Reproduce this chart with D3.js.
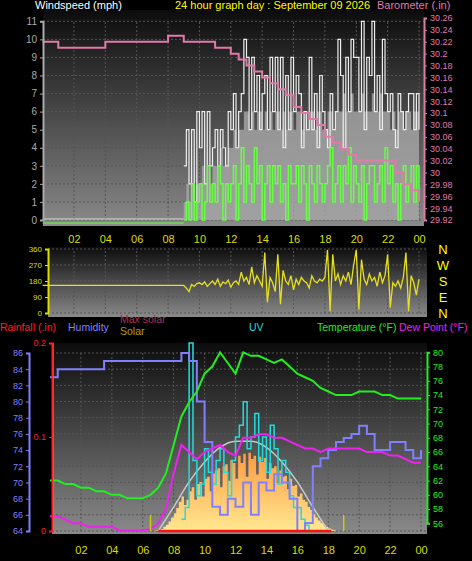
<!DOCTYPE html>
<html><head><meta charset="utf-8">
<script src="https://cdn.jsdelivr.net/npm/d3@7"></script>
<style>body{margin:0;background:#000}svg{display:block}text{font-family:"Liberation Sans",Arial,sans-serif}</style>
</head><body><svg id="c" width="472" height="561"></svg>
<script>
const hourTicks=[2,4,6,8,10,12,14,16,18,20,22,24];
const hourLabels=["02","04","06","08","10","12","14","16","18","20","22","00"];
// wind, 10-min steps from 09:00 to 24:00
const gust=[3,5,2,5,1,6, 4,6,2,6,3,4, 5,3,5,4,3,6, 5,7,4,6,7,10, 9,5,9,6,8,5, 7,8,5,9,6,9, 5,9,4,8,5,9, 6,8,7,4,6,5, 9,5,7,4,8,6, 5,4,7,5,6,10, 8,4,9,6,10,9, 9,6,11,5,9,8, 11,6,8,5,10,7, 6,7,5,4,7,6, 5,6,7,7,5,7, 5];
const speed=[0,1,0,2,0,1, 2,0,1,3,1,2, 1,3,2,0,2,1, 2,3,0,2,4,1, 3,2,1,4,2,3, 0,2,3,1,3,2, 3,1,2,0,3,2, 2,3,1,3,2,0, 3,2,1,3,2,1, 2,3,4,1,2,3, 1,3,2,4,1,3, 2,1,3,0,2,3, 3,1,2,3,1,4, 2,3,1,2,0,2, 3,1,2,3,1,3, 1];
const avgWind=[1,2,1,2,1,2, 2,3,2,3,2,3, 3,3,4,3,3,4, 4,5,4,5,5,6, 6,5,6,5,6,6, 5,6,5,6,5,6, 6,5,6,5,6,6, 5,6,6,5,6,5, 6,6,5,6,6,5, 5,6,6,5,6,6, 6,7,6,6,7,6, 6,6,7,6,6,6, 7,6,6,7,6,6, 6,5,6,5,6,6, 5,6,6,5,6,6, 6];
// barometer, 30-min steps 00:00-24:00
const pressure=[30.22,30.22,30.21,30.21,30.21,30.21,30.21,30.21,30.22,30.22,30.22,30.22,30.22,30.22,30.22,30.22,30.23,30.23,30.22,30.22,30.22,30.22,30.21,30.21,30.20,30.19,30.18,30.17,30.16,30.15,30.14,30.13,30.11,30.10,30.09,30.08,30.06,30.05,30.04,30.03,30.02,30.02,30.02,30.02,30.02,30.00,29.98,29.97,29.95];
// wind direction, 10-min steps from 09:00 (flat 155 before)
const direction=[155,140,120,160,150,165, 170,160,175,150,165,180, 160,190,150,175,165,185, 145,170,180,160,230,180, 200,160,260,170,210,180, 150,340,60,200,170,120, 330,50,240,180,160,210, 130,190,160,200,180,170, 140,210,180,170,190,180, 200,355,10,330,180,220, 160,210,180,230,160,270, 355,20,300,190,160,220, 180,200,150,230,170,210, 330,30,170,150,180,140, 200,340,10,210,170,100, 190];
// 30-min steps 00:00-24:00
const temperature=[62,62,61.5,61.5,61,61,60.5,60.5,60,60,59.5,59.5,59.5,60,61,63,67,71,73,74.5,77,78,80,78.5,77,80,79.5,79.5,79,78.5,79,78,77,76.5,76,75,74.5,74,74,74,74.5,74.5,74.5,74,74,73.5,73.5,73.5,73.5];
const dewPoint=[57,57,56.5,56,56,55.5,55.5,55.5,55.5,55,55,55,55,55.2,56,58,63,67,66,65,66,66.5,67,66,65.5,68,68,68.5,68.5,68,68,67.5,67,66.5,66.5,66,66.5,66.5,66.5,66.5,66.5,66,66,66,65.5,65.5,65,64.5,64.5];
const humidity=[83,84,84,84,84,84,84,85,85,85,85,85,85,85,85,85,85,86,85,80,75,67,66,68,67,70,66,70,69,71,70,68,64,65,72,73,74,75,75.5,76,77,76,74,74,75,75,74,73,74];
// solar, 10-min steps from 06:30
const solar=[0,0,5,10,20,40,60,90,130,170,220,280,330,250,300,380,420,300,450,470,330,500,520,380,550,580,600,420,620,640,480,680,650,500,720,650,740,520,750,690,720,540,710,660,700,500,650,600,620,460,580,520,530,400,500,430,440,330,360,300,280,230,200,160,130,100,80,60,40,25,15,5,0];
// max solar, hourly 07..18
const maxSolar=[0,230,470,660,800,860,860,800,660,470,230,0];
// UV, 15-min steps from 08:30
const uv=[1,2,16,6,3,4,7,5,4,6,7,5,3,6,8,9,11,7,8,10,6,8,5,9,7,4,6,5,3,2,2,1,0.5,0,0];
const windTicks=d3.range(0,12), baroTicks=d3.range(29.92,30.27,0.02).map(v=>+v.toFixed(2));
const dirTicks=[0,90,180,270,360], compass=["N","E","S","W","N"];
const humTicks=d3.range(64,87,2), tempTicks=d3.range(56,81,2), rainTicks=[0,0.1,0.2];

const svg=d3.select("#c");
const defs=svg.append("defs");
const g=defs.append("linearGradient").attr("id","bg").attr("x1",0).attr("y1",0).attr("x2",0).attr("y2",1);
g.append("stop").attr("offset","0").attr("stop-color","#0c0c0c");
g.append("stop").attr("offset","1").attr("stop-color","#8a8a8a");
const sg=defs.append("linearGradient").attr("id","sol").attr("x1",0).attr("y1",0).attr("x2",0).attr("y2",1);
sg.append("stop").attr("offset","0").attr("stop-color","#ff9a40");
sg.append("stop").attr("offset","1").attr("stop-color","#ffe890");
const curve=d3.curveStepAfter;

function panel(x0,x1,y0,y1){
  svg.append("rect").attr("x",x0).attr("y",y0).attr("width",x1-x0).attr("height",y1-y0).attr("fill","url(#bg)");
}
function grid(x,y,ticks,xr){
  svg.append("g").selectAll("line").data(ticks).join("line").attr("x1",xr[0]).attr("x2",xr[1])
   .attr("y1",d=>y(d)).attr("y2",d=>y(d)).attr("stroke","#555").attr("stroke-dasharray","2,2");
  const yr=y.range();
  svg.append("g").selectAll("line").data(hourTicks).join("line").attr("x1",d=>x(d)).attr("x2",d=>x(d))
   .attr("y1",yr[0]).attr("y2",yr[1]).attr("stroke","#555").attr("stroke-dasharray","2,2");
}
function hourAxis(x,y){
  svg.append("g").attr("transform",`translate(0,${y})`).call(d3.axisBottom(x).tickValues(hourTicks).tickFormat((d,i)=>hourLabels[i]).tickSize(0))
   .call(a=>{a.select(".domain").remove();a.selectAll("text").attr("fill","#dddd00").attr("font-size",11);});
}
function leftAxis(y,x,ticks,col,fmt,size=10){
  svg.append("g").attr("transform",`translate(${x},0)`).call(d3.axisLeft(y).tickValues(ticks).tickFormat(fmt).tickSize(3))
   .call(a=>{a.select(".domain").attr("stroke",col).attr("stroke-width",2);a.selectAll("line").attr("stroke",col);a.selectAll("text").attr("fill",col).attr("font-size",size);});
}
function rightAxis(y,x,ticks,col,fmt,size=10){
  svg.append("g").attr("transform",`translate(${x},0)`).call(d3.axisRight(y).tickValues(ticks).tickFormat(fmt).tickSize(3))
   .call(a=>{a.select(".domain").attr("stroke",col).attr("stroke-width",2);a.selectAll("line").attr("stroke",col);a.selectAll("text").attr("fill",col).attr("font-size",size);});
}
const t10=(i,s)=>s+i/6, t30=i=>i/2;

// ===== TOP PANEL =====
const x1=d3.scaleLinear().domain([0,24]).range([42.6,419]);
const yW=d3.scaleLinear().domain([0,11]).range([220,21.3]);
const yP=d3.scaleLinear().domain([29.92,30.26]).range([220,18]);
panel(43,424,10,226);
grid(x1,yW,windTicks,[43,424]);
const wd=d3.range(gust.length);
svg.append("path").datum(wd).attr("fill","#a8a8a8").attr("opacity",0.8)
 .attr("d",d3.area().curve(curve).x(i=>x1(t10(i,9))).y0(yW(0)).y1(i=>yW(avgWind[i])));
svg.append("line").attr("x1",x1(0)).attr("x2",x1(9)).attr("y1",yW(0)-1).attr("y2",yW(0)-1).attr("stroke","#ddd");
svg.append("line").attr("x1",x1(0)).attr("x2",x1(9)).attr("y1",yW(0)+3).attr("y2",yW(0)+3).attr("stroke","#66ff44");
svg.append("path").datum(wd).attr("fill","none").attr("stroke","#eeeeee").attr("stroke-width",1.2)
 .attr("d",d3.line().curve(curve).x(i=>x1(t10(i,9))).y(i=>yW(gust[i])));
svg.append("path").datum(wd).attr("fill","none").attr("stroke","#66ff44").attr("stroke-width",1.5)
 .attr("d",d3.line().curve(curve).x(i=>x1(t10(i,9))).y(i=>yW(speed[i])));
svg.append("path").datum(d3.range(pressure.length)).attr("fill","none").attr("stroke","#e07aa8").attr("stroke-width",2)
 .attr("d",d3.line().curve(curve).x(i=>x1(t30(i))).y(i=>yP(pressure[i])));
leftAxis(yW,43,windTicks,"#aaa",d3.format("d"));
rightAxis(yP,424,baroTicks,"#e07aa8",d=>d.toString(),9);
hourAxis(x1,232);
svg.append("text").attr("x",35).attr("y",9).attr("fill","#fff").attr("font-size",11).text("Windspeed (mph)");
svg.append("text").attr("x",175).attr("y",9).attr("fill","#ffff00").attr("font-size",11).text("24 hour graph day : September 09 2026");
svg.append("text").attr("x",377).attr("y",9).attr("fill","#e07aa8").attr("font-size",11).text("Barometer (.in)");

// ===== DIRECTION PANEL =====
const yD=d3.scaleLinear().domain([0,360]).range([313,249]);
panel(48,427,247,317);
grid(x1,yD,dirTicks,[48,427]);
const dirAll=[[0,155],[9,155]].concat(direction.map((v,i)=>[t10(i,9),v]));
svg.append("path").datum(dirAll).attr("fill","none").attr("stroke","#e6e020").attr("stroke-width",1.3)
 .attr("d",d3.line().x(d=>x1(d[0])).y(d=>yD(d[1])));
leftAxis(yD,48,dirTicks,"#dddd00",d3.format("d"),8);
svg.selectAll(".cmp").data(dirTicks).join("text").attr("x",443).attr("y",d=>yD(d)+5).attr("text-anchor","middle")
 .attr("fill","#ffff00").attr("font-size",13).text((d,i)=>compass[i]);

// ===== BOTTOM PANEL =====
const x3=d3.scaleLinear().domain([0,24]).range([50,421]);
const yH=d3.scaleLinear().domain([64,86]).range([531,353]);
const yT=d3.scaleLinear().domain([56,80]).range([523.3,352.3]);
const yR=d3.scaleLinear().domain([0,0.2]).range([531,343]);
const yS=d3.scaleLinear().domain([0,1800]).range([531,343]);
const yU=d3.scaleLinear().domain([0,16]).range([531,343]);
panel(52,427,343,534);
grid(x3,yH,humTicks,[52,427]);
const sd=d3.range(solar.length);
svg.append("path").datum(sd).attr("fill","url(#sol)")
 .attr("d",d3.area().curve(curve).x(i=>x3(t10(i,6.5))).y0(yS(0)).y1(i=>yS(solar[i])));
svg.append("path").datum(d3.range(maxSolar.length)).attr("fill","none").attr("stroke","#c8c8c8").attr("stroke-width",1.5)
 .attr("d",d3.line().curve(d3.curveMonotoneX).x(i=>x3(7+i)).y(i=>yS(maxSolar[i])));
svg.append("path").datum(d3.range(uv.length)).attr("fill","none").attr("stroke","#22dddd").attr("stroke-width",1.5)
 .attr("d",d3.line().curve(curve).x(i=>x3(8.5+i/4)).y(i=>yU(uv[i])));
svg.append("path").datum(d3.range(humidity.length)).attr("fill","none").attr("stroke","#8080ff").attr("stroke-width",2)
 .attr("d",d3.line().curve(curve).x(i=>x3(t30(i))).y(i=>yH(humidity[i])));
svg.append("path").datum(d3.range(temperature.length)).attr("fill","none").attr("stroke","#22ee22").attr("stroke-width",2)
 .attr("d",d3.line().x(i=>x3(t30(i))).y(i=>yT(temperature[i])));
svg.append("path").datum(d3.range(dewPoint.length)).attr("fill","none").attr("stroke","#ee22ee").attr("stroke-width",2)
 .attr("d",d3.line().x(i=>x3(t30(i))).y(i=>yT(dewPoint[i])));
svg.append("line").attr("x1",x3(7)).attr("x2",x3(18.2)).attr("y1",yR(0)).attr("y2",yR(0)).attr("stroke","#ff1010").attr("stroke-width",2.5);
[6.5,19].forEach(h=>svg.append("line").attr("x1",x3(h)).attr("x2",x3(h)).attr("y1",yR(0)).attr("y2",yR(0)-16).attr("stroke","#cccc00").attr("stroke-width",1.5));
svg.append("line").attr("x1",53).attr("x2",53).attr("y1",343).attr("y2",531).attr("stroke","#ccc");
leftAxis(yH,29,humTicks,"#8080ff",d3.format("d"),9);
leftAxis(yR,52,rainTicks,"#ff2020",d=>d===0?"0":d.toString(),9);
rightAxis(yT,427,tempTicks,"#22ee22",d3.format("d"),9);
hourAxis(x3,543);
const hdr=[["Rainfall (.in)",0,331,"#ff2020"],["Humidity",68,331,"#8080ff"],["Max solar",120,323,"#b03050"],["Solar",120,335,"#b0a000"],["UV",249,331,"#22dddd"],["Temperature (°F)",317,331,"#22ee22"],["Dew Point (°F)",399,331,"#ee22ee"]];
svg.selectAll(".hd").data(hdr).join("text").attr("x",d=>d[1]).attr("y",d=>d[2]).attr("fill",d=>d[3]).attr("font-size",10.5).text(d=>d[0]);
</script></body></html>
